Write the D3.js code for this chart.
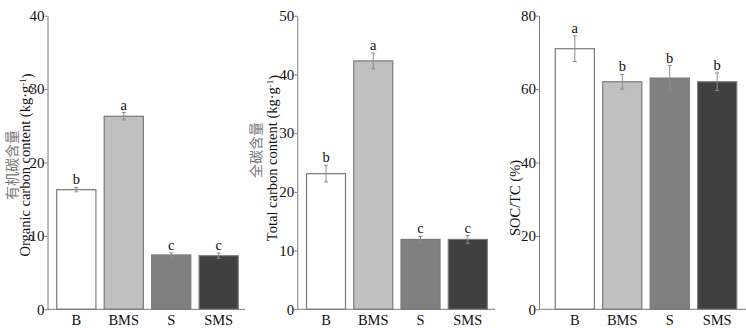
<!DOCTYPE html>
<html>
<head>
<meta charset="utf-8">
<script src="https://cdn.jsdelivr.net/npm/d3@7"></script>
<style>
  body { margin: 0; background: #fff; }
  svg { display: block; }
</style>
</head>
<body>
<div id="chart"></div>
<script>
// groups and values
const groups = ['B', 'BMS', 'S', 'SMS'];

const socMean = [16.3, 26.3, 7.4, 7.3];
const socErr = [0.3, 0.5, 0.3, 0.35];
const socSig = ['b', 'a', 'c', 'c'];

const tcMean = [23.1, 42.3, 11.9, 11.9];
const tcErr = [1.4, 1.35, 0.5, 0.65];
const tcSig = ['b', 'a', 'c', 'c'];

const ratioMean = [71.0, 62.0, 63.0, 62.0];
const ratioErr = [3.5, 2.0, 3.4, 2.4];
const ratioSig = ['a', 'b', 'b', 'b'];

const socTicks = [0, 10, 20, 30, 40];
const tcTicks = [0, 10, 20, 30, 40, 50];
const ratioTicks = [0, 20, 40, 60, 80];

const fills = ['#ffffff', '#c0c0c0', '#808080', '#404040'];

const width = 746, height = 328;
const plotTop = 15.7, plotBottom = 309.3;
const font = '"Liberation Serif", "Times New Roman", serif';
const cjk = '"Noto Sans CJK SC", sans-serif';

const svg = d3.select('#chart').append('svg')
  .attr('width', width)
  .attr('height', height);

const panels = [
  { mean: socMean, err: socErr, sig: socSig, ticks: socTicks, max: 40,
    x0: 47.5, x1: 247.5, lineEnd: 245,
    zh: '有机碳含量', en: 'Organic carbon content (kg·g', sup: '-1', zhX: 10.5, enX: 25, zhY: 165, enY: 165 },
  { mean: tcMean, err: tcErr, sig: tcSig, ticks: tcTicks, max: 50,
    x0: 297.3, x1: 496.5, lineEnd: 495,
    zh: '全碳含量', en: 'Total carbon content (kg·g', sup: '-1', zhX: 255, enX: 272, zhY: 150, enY: 158 },
  { mean: ratioMean, err: ratioErr, sig: ratioSig, ticks: ratioTicks, max: 80,
    x0: 546, x1: 746, lineEnd: 746, axisX: 539,
    zh: null, en: 'SOC/TC (%)', sup: null, enX: 515, enY: 198 }
];

panels.forEach(p => {
  const axisX = p.axisX || p.x0;
  const g = svg.append('g');

  const x = d3.scaleBand()
    .domain(groups)
    .range([p.x0, p.x1])
    .paddingInner(0.175)
    .paddingOuter(0.195);

  const y = d3.scaleLinear()
    .domain([0, p.max])
    .range([plotBottom, plotTop]);

  const rows = groups.map((k, i) => ({ k, i, v: p.mean[i], e: p.err[i], s: p.sig[i] }));

  // bars
  g.selectAll('rect.bar')
    .data(rows)
    .enter().append('rect')
    .attr('class', 'bar')
    .attr('x', d => x(d.k))
    .attr('width', x.bandwidth())
    .attr('y', d => y(d.v))
    .attr('height', d => y(0) - y(d.v))
    .attr('fill', d => fills[d.i])
    .attr('stroke', '#7a7a7a')
    .attr('stroke-width', 1.2);

  // error bars
  const eb = g.selectAll('g.err')
    .data(rows)
    .enter().append('g')
    .attr('class', 'err')
    .attr('stroke', '#8a8a8a')
    .attr('stroke-width', 1);
  eb.append('line')
    .attr('x1', d => x(d.k) + x.bandwidth() / 2)
    .attr('x2', d => x(d.k) + x.bandwidth() / 2)
    .attr('y1', d => y(d.v + d.e))
    .attr('y2', d => y(d.v - d.e));
  [1, -1].forEach(sgn => {
    eb.append('line')
      .attr('x1', d => x(d.k) + x.bandwidth() / 2 - 2)
      .attr('x2', d => x(d.k) + x.bandwidth() / 2 + 2)
      .attr('y1', d => y(d.v + sgn * d.e))
      .attr('y2', d => y(d.v + sgn * d.e));
  });

  // significance letters
  g.selectAll('text.sig')
    .data(rows)
    .enter().append('text')
    .attr('class', 'sig')
    .attr('x', d => x(d.k) + x.bandwidth() / 2)
    .attr('y', d => y(d.v + d.e) - 3)
    .attr('text-anchor', 'middle')
    .style('font', `14.5px ${font}`)
    .attr('fill', '#111')
    .text(d => d.s);

  // y axis
  const yAxis = d3.axisLeft(y)
    .tickValues(p.ticks)
    .tickSize(3)
    .tickPadding(0)
    .tickSizeOuter(0);
  const ya = g.append('g')
    .attr('transform', `translate(${axisX},0)`)
    .call(yAxis);
  ya.select('.domain').attr('stroke', '#7a7a7a');
  ya.selectAll('.tick line').attr('stroke', '#7a7a7a');
  ya.selectAll('.tick text')
    .attr('fill', '#111')
    .style('font', `15px ${font}`);

  // baseline
  g.append('line')
    .attr('x1', axisX)
    .attr('x2', p.lineEnd)
    .attr('y1', y(0))
    .attr('y2', y(0))
    .attr('stroke', '#7a7a7a')
    .attr('stroke-width', 1);

  // x labels
  g.selectAll('text.xl')
    .data(rows)
    .enter().append('text')
    .attr('class', 'xl')
    .attr('x', d => x(d.k) + x.bandwidth() / 2)
    .attr('y', 325)
    .attr('text-anchor', 'middle')
    .attr('fill', '#111')
    .style('font', `14.5px ${font}`)
    .text(d => d.k);

  // y titles
  if (p.zh) {
    g.append('text')
      .attr('transform', `translate(${p.zhX + 6},${p.zhY}) rotate(-90)`)
      .attr('text-anchor', 'middle')
      .attr('fill', '#777')
      .style('font', `14px ${cjk}`)
      .text(p.zh);
  }
  const t = g.append('text')
    .attr('transform', `translate(${p.enX + 5},${p.enY}) rotate(-90)`)
    .attr('text-anchor', 'middle')
    .attr('fill', '#111')
    .style('font', `14.5px ${font}`);
  t.append('tspan').text(p.en);
  if (p.sup) {
    t.append('tspan')
      .attr('dy', '-0.45em')
      .style('font-size', '9px')
      .text(p.sup);
    t.append('tspan')
      .attr('dy', '0.45em')
      .text(')');
  }
});
</script>
</body>
</html>
